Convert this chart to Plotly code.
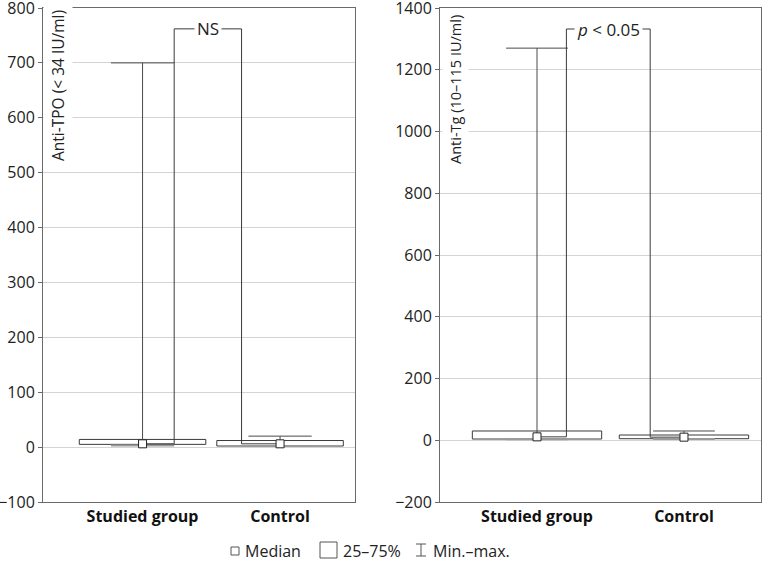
import plotly.graph_objects as go

# ---------------- data ----------------
categories = ["Studied group", "Control"]

tpo_min = [3, 2]
tpo_q1 = [5, 2]
tpo_median = [6, 6]
tpo_q3 = [14, 12]
tpo_max = [700, 20]
tpo_bracket = 762
tpo_label = "NS"

tg_min = [3, 4]
tg_q1 = [4, 5]
tg_median = [11, 10]
tg_q3 = [30, 17]
tg_max = [1270, 30]
tg_bracket = 1332
tg_label = "<i>p</i> < 0.05"

tpo_ticks = [-100, 0, 100, 200, 300, 400, 500, 600, 700, 800]
tg_ticks = [-200, 0, 200, 400, 600, 800, 1000, 1200, 1400]

legend_labels = ["Median", "25–75%", "Min.–max."]

# ---------------- style ----------------
FONT = "Open Sans"
BOX_COL = "#3a3a3a"
WHISK_COL = "#4a4a4a"
MIN_COL = "#9a9a9a"
GRID_COL = "#d4d4d4"
AXIS_COL = "#6a6a6a"

fig = go.Figure()


def add_panel(xa, ya, q1, q3, med, mn, mx, box_half, cap_half, legs, bracket_y, label):
    xs = list(range(len(categories)))
    # boxes
    bx, by = [], []
    for i in xs:
        bx += [i - box_half, i + box_half, i + box_half, i - box_half, i - box_half, None]
        by += [q1[i], q1[i], q3[i], q3[i], q1[i], None]
    fig.add_trace(go.Scatter(x=bx, y=by, mode="lines", line=dict(color=BOX_COL, width=1),
                             xaxis=xa, yaxis=ya, showlegend=False, hoverinfo="skip"))
    # min caps
    mx_, my_ = [], []
    for i in xs:
        mx_ += [i - cap_half, i + cap_half, None]
        my_ += [mn[i], mn[i], None]
    fig.add_trace(go.Scatter(x=mx_, y=my_, mode="lines", line=dict(color=MIN_COL, width=2),
                             xaxis=xa, yaxis=ya, showlegend=False, hoverinfo="skip"))
    # whiskers (max)
    wx, wy = [], []
    for i in xs:
        wx += [i - cap_half, i + cap_half, None, i, i, None]
        wy += [mx[i], mx[i], None, mx[i], med[i], None]
    fig.add_trace(go.Scatter(x=wx, y=wy, mode="lines", line=dict(color=WHISK_COL, width=1),
                             xaxis=xa, yaxis=ya, showlegend=False, hoverinfo="skip"))
    # significance bracket
    lx = xs[0] + legs[0]
    rx = xs[1] + legs[1]
    kx = [xs[0], lx, lx, rx, rx, xs[1]]
    ky = [med[0], med[0], bracket_y, bracket_y, med[1], med[1]]
    fig.add_trace(go.Scatter(x=kx, y=ky, mode="lines", line=dict(color=BOX_COL, width=1),
                             xaxis=xa, yaxis=ya, showlegend=False, hoverinfo="skip"))
    fig.add_annotation(x=(lx + rx) / 2, y=bracket_y, xref=xa, yref=ya, text=label,
                       showarrow=False, bgcolor="white", borderpad=2,
                       font=dict(family=FONT, size=17, color="#222"))
    # medians
    fig.add_trace(go.Scatter(x=xs, y=med, mode="markers",
                             marker=dict(symbol="square", size=8, color="white",
                                         line=dict(color="#222", width=1)),
                             xaxis=xa, yaxis=ya, showlegend=False, hoverinfo="skip"))


add_panel("x", "y", tpo_q1, tpo_q3, tpo_median, tpo_min, tpo_max,
          0.46, 0.23, (0.23, -0.28), tpo_bracket, tpo_label)
add_panel("x2", "y2", tg_q1, tg_q3, tg_median, tg_min, tg_max,
          0.44, 0.21, (0.2, -0.23), tg_bracket, tg_label)

# axis titles inside the plots (centre-anchored so rotation does not shift them)
fig.add_annotation(xref="x domain", yref="y domain", x=0, y=1, xanchor="center", yanchor="middle",
                   xshift=15, yshift=-78, textangle=-90, text="Anti-TPO (< 34 IU/ml)",
                   showarrow=False, bgcolor="white", borderpad=3,
                   font=dict(family=FONT, size=15.5, color="#222"))
fig.add_annotation(xref="x2 domain", yref="y2 domain", x=0, y=1, xanchor="center", yanchor="middle",
                   xshift=15, yshift=-82, textangle=-90, text="Anti-Tg (10–115 IU/ml)",
                   showarrow=False, bgcolor="white", borderpad=3,
                   font=dict(family=FONT, size=14.5, color="#222"))

# ---------------- custom legend ----------------
L, T, W, H = 43, 8, 718, 494


def px(xp):
    return (xp - L) / W


def py(yp):
    return (T + H - yp) / H


shape_line = dict(color="#555", width=1)
# median icon
fig.add_shape(type="rect", xref="paper", yref="paper", x0=px(231), x1=px(239), y0=py(555), y1=py(547),
              line=shape_line, fillcolor="white")
# 25-75 icon
fig.add_shape(type="rect", xref="paper", yref="paper", x0=px(320), x1=px(337), y0=py(558), y1=py(542),
              line=shape_line, fillcolor="white")
# min-max icon
for (a, b, c, d) in [(421, 421, 544, 556), (416, 426, 544, 544), (416, 426, 556, 556)]:
    fig.add_shape(type="line", xref="paper", yref="paper", x0=px(a), x1=px(b), y0=py(c), y1=py(d),
                  line=shape_line)
for xt, txt in zip([243, 341, 431], legend_labels):
    fig.add_annotation(xref="paper", yref="paper", x=px(xt), y=py(551), xanchor="left",
                       yanchor="middle", text=txt, showarrow=False,
                       font=dict(family=FONT, size=16, color="#222"))

# ---------------- axes ----------------
common_x = dict(tickvals=[0, 1], ticktext=[f"<b>{c}</b>" for c in categories], ticks="",
                showgrid=False, zeroline=False, showline=True, mirror=True, linecolor=AXIS_COL,
                tickfont=dict(family=FONT, size=16, color="#111"), automargin=False)
common_y = dict(showgrid=True, gridcolor=GRID_COL, zeroline=False, showline=True, mirror=True,
                linecolor=AXIS_COL, ticks="outside", ticklen=4, tickcolor=AXIS_COL,
                tickfont=dict(family=FONT, size=16, color="#222"), automargin=False,
                ticklabeloverflow="allow")

fig.update_layout(
    width=762, height=568,
    margin=dict(l=L, r=762 - L - W, t=T, b=568 - T - H, autoexpand=False),
    plot_bgcolor="white", paper_bgcolor="white",
    showlegend=False,
    xaxis=dict(domain=[0, (355 - L) / W], range=[-0.724, 1.545], anchor="y", **common_x),
    xaxis2=dict(domain=[(440 - L) / W, 1], range=[-0.66, 1.524], anchor="y2", **common_x),
    yaxis=dict(range=[-100, 800], tickvals=tpo_ticks, anchor="x", **common_y),
    yaxis2=dict(range=[-200, 1400], tickvals=tg_ticks, anchor="x2", **common_y),
)

# remove the browser's default 8px page margin so the figure fills the window
fig.write_html("out.html", config={"displayModeBar": False},
               post_script="document.body.style.margin='0';")
